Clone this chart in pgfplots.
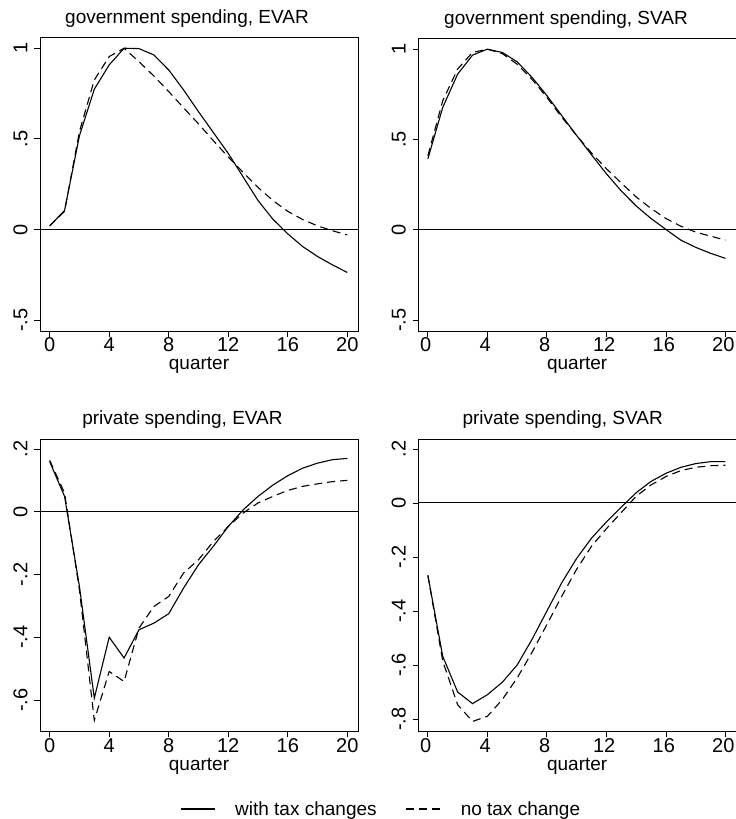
\documentclass[border=0pt]{standalone}
\usepackage{fontspec}
\setmainfont{Liberation Sans}
\usepackage{pgfplots}
\pgfplotsset{compat=1.18}

\pgfplotsset{
  panel/.style={
    scale only axis,
    anchor=south west,
    width=318pt,
    xmin=-0.65, xmax=20.72,
    xtick={0,4,8,12,16,20},
    xticklabels={0,4,8,12,16,20},
    tick align=outside,
    tick pos=left,
    major tick length=5.7pt,
    axis line style={black, line width=0.9pt},
    every tick/.style={black, line width=0.9pt},
    font=\fontsize{19}{22}\selectfont,
    /pgf/number format/assume math mode=true,
    every tick label/.append style={font=\fontsize{20}{24}\selectfont},
    xticklabel style={anchor=north, inner sep=0pt, yshift=-0.8pt},
    yticklabel style={rotate=90, anchor=base, inner sep=0pt},
    yticklabel shift=7pt,
    xlabel={quarter},
    xlabel style={at={(axis description cs:0.5,0)}, anchor=base, inner sep=0pt, yshift=-39pt},
    title style={at={(axis description cs:0.5,1)}, anchor=base, inner sep=0pt},
  },
  rightpanel/.style={xticklabel style={xshift=-2.2pt}},
  withtax/.style={black, line width=1.1pt},
  notax/.style={black, line width=1.1pt, dash pattern=on 8pt off 5pt},
  zeroline/.style={black, line width=1pt, forget plot},
}

\begin{document}
\begin{tikzpicture}
\useasboundingbox (0pt,0pt) rectangle (736pt,819pt);

% government spending, EVAR
\begin{axis}[panel, at={(40pt,488pt)}, height=294pt,
  ymin=-0.56, ymax=1.062,
  ytick={-0.5,0,0.5,1}, yticklabels={-.5,0,.5,1},
  title={government spending, EVAR},
  title style={yshift=7.2pt, xshift=-12pt}]
\addplot[zeroline] coordinates {(-0.65,0) (20.72,0)};
\addplot[withtax] coordinates {(0,0.02)(1,0.105)(2,0.517)(3,0.774)(4,0.908)(5,1.0)(6,0.998)(7,0.963)(8,0.88)(9,0.77)(10,0.65)(11,0.535)(12,0.42)(13,0.29)(14,0.16)(15,0.057)(16,-0.024)(17,-0.094)(18,-0.149)(19,-0.195)(20,-0.237)};
\addplot[notax] coordinates {(0,0.02)(1,0.10)(2,0.54)(3,0.825)(4,0.954)(5,1.0)(6,0.926)(7,0.847)(8,0.761)(9,0.671)(10,0.583)(11,0.49)(12,0.40)(13,0.315)(14,0.232)(15,0.16)(16,0.10)(17,0.055)(18,0.02)(19,-0.007)(20,-0.03)};
\end{axis}

% government spending, SVAR
\begin{axis}[panel, rightpanel, at={(418.2pt,488pt)}, height=293pt,
  ymin=-0.56, ymax=1.062,
  ytick={-0.5,0,0.5,1}, yticklabels={-.5,0,.5,1},
  title={government spending, SVAR},
  title style={yshift=7.2pt, xshift=-11.2pt}]
\addplot[zeroline] coordinates {(-0.65,0) (20.72,0)};
\addplot[withtax] coordinates {(0,0.393)(1,0.678)(2,0.862)(3,0.967)(4,1.0)(5,0.982)(6,0.93)(7,0.844)(8,0.743)(9,0.632)(10,0.522)(11,0.415)(12,0.31)(13,0.215)(14,0.132)(15,0.0625)(16,0.002)(17,-0.057)(18,-0.097)(19,-0.13)(20,-0.158)};
\addplot[notax] coordinates {(0,0.41)(1,0.715)(2,0.89)(3,0.982)(4,1.0)(5,0.976)(6,0.917)(7,0.833)(8,0.733)(9,0.623)(10,0.522)(11,0.425)(12,0.338)(13,0.259)(14,0.182)(15,0.118)(16,0.0625)(17,0.02)(18,-0.013)(19,-0.035)(20,-0.057)};
\end{axis}

% private spending, EVAR
\begin{axis}[panel, at={(40pt,87.3pt)}, height=292.4pt,
  ymin=-0.701, ymax=0.231,
  ytick={-0.6,-0.4,-0.2,0,0.2}, yticklabels={-.6,-.4,-.2,0,.2},
  title={private spending, EVAR},
  title style={yshift=8.7pt, xshift=-16.5pt},
  legend columns=2,
  legend style={at={(0.4303,-0.2645)}, anchor=west, draw=none, fill=none,
    font=\fontsize{19}{22}\selectfont,
    nodes={inner sep=0pt},
    /tikz/every odd column/.append style={column sep=20pt},
    /tikz/every even column/.append style={column sep=29pt}},
  legend image code/.code={\draw[#1] (0pt,0pt) -- (34pt,0pt);}]
\addplot[zeroline] coordinates {(-0.65,0) (20.72,0)};
\addplot[withtax] coordinates {(0,0.16)(1,0.049)(2,-0.238)(3,-0.594)(4,-0.40)(5,-0.466)(6,-0.376)(7,-0.355)(8,-0.325)(9,-0.243)(10,-0.169)(11,-0.11)(12,-0.047)(13,0.006)(14,0.049)(15,0.085)(16,0.115)(17,0.139)(18,0.155)(19,0.166)(20,0.17)};
\addlegendentry{with tax changes}
\addplot[notax] coordinates {(0,0.164)(1,0.06)(2,-0.249)(3,-0.665)(4,-0.509)(5,-0.541)(6,-0.371)(7,-0.302)(8,-0.27)(9,-0.195)(10,-0.153)(11,-0.095)(12,-0.047)(13,-0.004)(14,0.028)(15,0.049)(16,0.068)(17,0.081)(18,0.089)(19,0.096)(20,0.10)};
\addlegendentry{no tax change}
\end{axis}

% private spending, SVAR
\begin{axis}[panel, rightpanel, at={(418.2pt,87.3pt)}, height=292.7pt,
  ymin=-0.847, ymax=0.237,
  ytick={-0.8,-0.6,-0.4,-0.2,0,0.2}, yticklabels={-.8,-.6,-.4,-.2,0,.2},
  title={private spending, SVAR},
  title style={yshift=8.7pt, xshift=-14.5pt}]
\addplot[zeroline] coordinates {(-0.65,0) (20.72,0)};
\addplot[withtax] coordinates {(0,-0.268)(1,-0.568)(2,-0.70)(3,-0.743)(4,-0.71)(5,-0.664)(6,-0.6)(7,-0.505)(8,-0.40)(9,-0.295)(10,-0.205)(11,-0.13)(12,-0.07)(13,-0.015)(14,0.038)(15,0.08)(16,0.11)(17,0.132)(18,0.146)(19,0.153)(20,0.153)};
\addplot[notax] coordinates {(0,-0.268)(1,-0.586)(2,-0.747)(3,-0.809)(4,-0.79)(5,-0.728)(6,-0.648)(7,-0.553)(8,-0.45)(9,-0.345)(10,-0.245)(11,-0.16)(12,-0.095)(13,-0.035)(14,0.025)(15,0.067)(16,0.098)(17,0.12)(18,0.132)(19,0.138)(20,0.14)};
\end{axis}
\end{tikzpicture}
\end{document}
